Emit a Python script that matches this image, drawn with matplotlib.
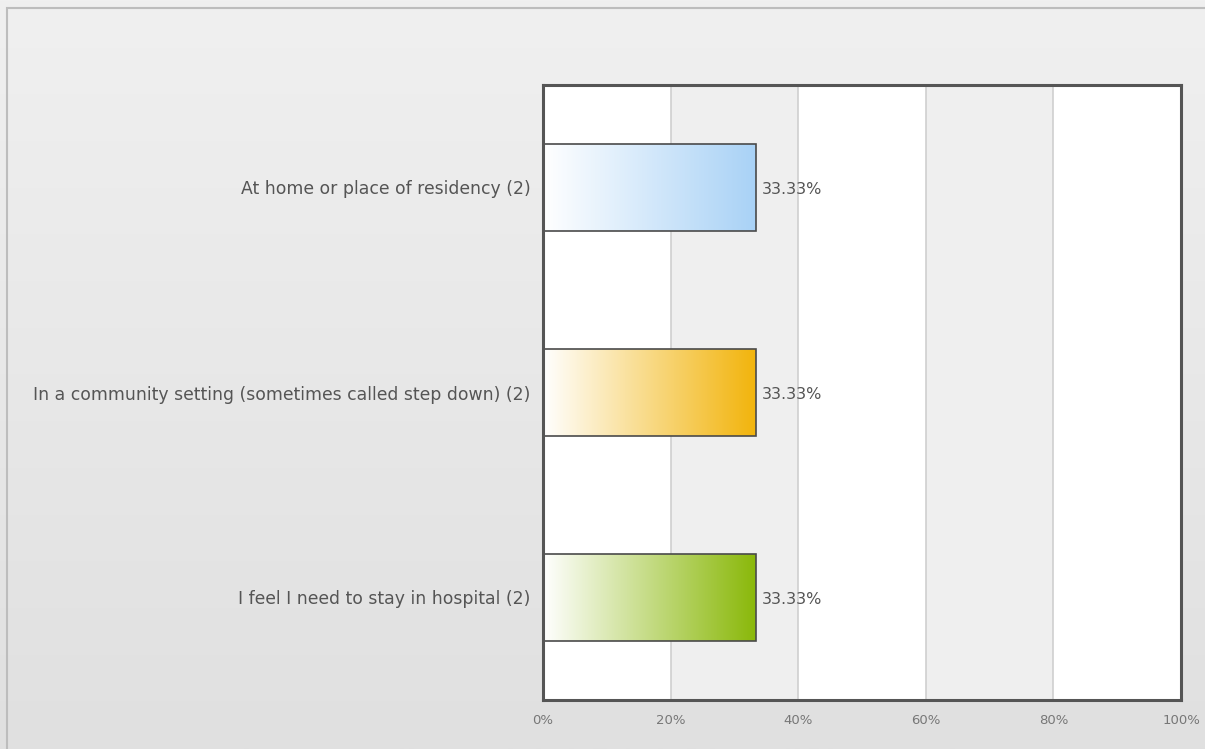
import numpy as np
import matplotlib
matplotlib.use("Agg")
import matplotlib.pyplot as plt
from matplotlib.colors import LinearSegmentedColormap
from matplotlib.patches import Rectangle

categories = [
    "At home or place of residency (2)",
    "In a community setting (sometimes called step down) (2)",
    "I feel I need to stay in hospital (2)",
]
percentages = [33.33, 33.33, 33.33]
bar_colors = ["#a9d2f6", "#f2b40c", "#8ab80a"]
x_ticks = [0, 20, 40, 60, 80, 100]

W, H = 1205, 749
fig = plt.figure(figsize=(W / 100, H / 100), dpi=100)

# panel background: soft vertical gradient with a thin border
bg = fig.add_axes([0, 0, 1, 1], zorder=-10)
grad = np.linspace(0, 1, 256).reshape(-1, 1)
bg_cmap = LinearSegmentedColormap.from_list("bg", ["#f0f0f0", "#e0e0e0"])
bg.imshow(grad, aspect="auto", cmap=bg_cmap, extent=[0, 1, 0, 1], origin="upper")
bg.add_patch(Rectangle((7 / W, -0.01), 1.0, 1 - 8 / H + 0.01, transform=bg.transAxes,
                       fill=False, edgecolor="#bdbdbd", linewidth=1.5))
bg.add_patch(Rectangle((0, 1 - 8 / H), 1, 8 / H, transform=bg.transAxes,
                       color="white", zorder=-1))
bg.add_patch(Rectangle((0, 0), 7 / W, 1, transform=bg.transAxes,
                       color="white", zorder=-1))
bg.set_xlim(0, 1)
bg.set_ylim(0, 1)
bg.axis("off")

left, right, top, bottom = 543, 1181, 85, 700
ax = fig.add_axes([left / W, 1 - bottom / H, (right - left) / W, (bottom - top) / H])

n = len(categories)

# alternating column bands and grid lines
band_cols = ["white", "#efefef", "white", "#efefef", "white"]
for i, c in enumerate(band_cols):
    ax.axvspan(x_ticks[i], x_ticks[i + 1], color=c, zorder=0, linewidth=0)
for t in x_ticks[1:-1]:
    ax.axvline(t, color="#cfcfcf", linewidth=1.2, zorder=1)

bar_h = 0.42
for i, (val, col) in enumerate(zip(percentages, bar_colors)):
    cmap = LinearSegmentedColormap.from_list(f"g{i}", ["#ffffff", col])
    ax.imshow(np.linspace(0, 1, 256).reshape(1, -1), cmap=cmap, aspect="auto",
              extent=[0, val, i + bar_h / 2, i - bar_h / 2], zorder=2,
              interpolation="bicubic")
    ax.barh(i, val, height=bar_h, facecolor="none", edgecolor="#4a4a4a",
            linewidth=1.2, zorder=3)
    ax.text(val + 1.0, i + 0.01, f"{val:.2f}%", va="center", ha="left",
            fontsize=11.5, color="#555555", zorder=4)

ax.set_xlim(0, 100)
ax.set_ylim(n - 0.5, -0.5)

ax.set_yticks(range(n))
ax.set_yticklabels(categories, fontsize=12.4, color="#555555")
ax.set_xticks(x_ticks)
ax.set_xticklabels([f"{t}%" for t in x_ticks], fontsize=9.5, color="#777777")
ax.tick_params(axis="both", length=0)
ax.tick_params(axis="y", pad=9)
ax.tick_params(axis="x", pad=10)

for s in ax.spines.values():
    s.set_color("#555555")
    s.set_linewidth(2.2)
    s.set_zorder(5)

fig.savefig("out.png", dpi=100)
